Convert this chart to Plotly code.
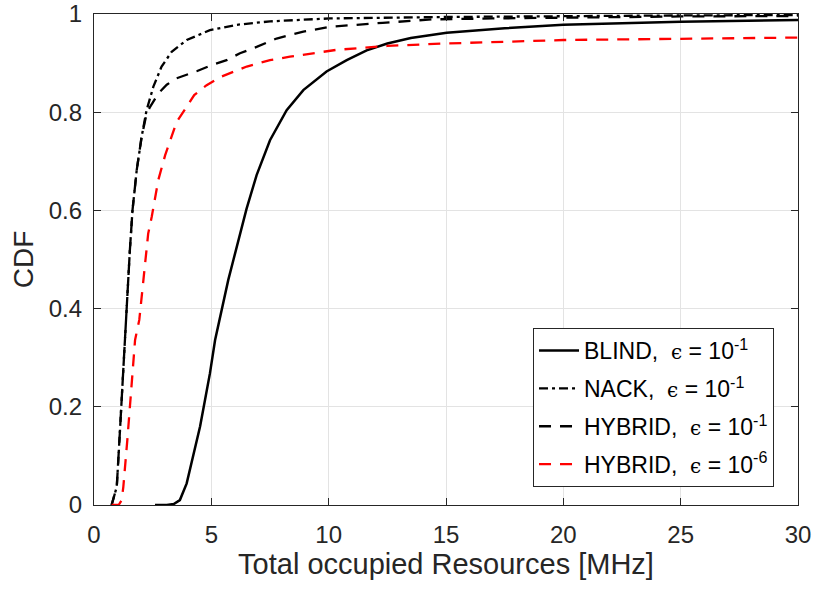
import plotly.graph_objects as go

# ---- data ----
blind_x = [2.6, 3.1, 3.4, 3.66, 3.95, 4.23, 4.52, 4.73, 4.94, 5.16, 5.44, 5.72, 5.94, 6.2, 6.5,
           6.93, 7.5, 8.21, 8.92, 9.91, 10.77, 11.62, 12.5, 13.5, 15.03, 17.5, 20, 25, 30]
blind_y = [0, 0, 0.002, 0.01, 0.044, 0.098, 0.16, 0.214, 0.268, 0.336, 0.40, 0.458, 0.499, 0.55,
           0.603, 0.672, 0.743, 0.804, 0.845, 0.883, 0.906, 0.926, 0.94, 0.951, 0.962, 0.971,
           0.978, 0.984, 0.988]

nack_x = [0.75, 0.97, 1.1, 1.25, 1.39, 1.53, 1.64, 1.82, 2.03, 2.24, 2.53, 2.88, 3.31, 3.95, 4.94,
          6.08, 7.5, 10.06, 15, 20, 25, 30]
nack_y = [0, 0.037, 0.146, 0.28, 0.397, 0.52, 0.6, 0.682, 0.75, 0.804, 0.852, 0.893, 0.923, 0.947,
          0.967, 0.978, 0.985, 0.991, 0.994, 0.996, 0.997, 0.998]

hyb1_x = [0.75, 0.97, 1.1, 1.25, 1.39, 1.53, 1.64, 1.82, 2.03, 2.24, 2.39, 2.74, 3.1, 3.52, 4.4,
          5.08, 5.65, 6.22, 6.93, 7.78, 8.92, 10.06, 12.3, 14.4, 17, 20, 25, 30]
hyb1_y = [0, 0.037, 0.146, 0.28, 0.397, 0.52, 0.6, 0.682, 0.75, 0.797, 0.811, 0.838, 0.856, 0.869,
          0.884, 0.897, 0.906, 0.92, 0.933, 0.95, 0.964, 0.974, 0.982, 0.989, 0.991, 0.993, 0.995,
          0.996]

hyb6_x = [0.75, 1.05, 1.18, 1.25, 1.42, 1.6, 1.75, 1.93, 2.03, 2.17, 2.31, 2.46, 2.74, 3.03, 3.24,
          3.52, 3.88, 4.27, 4.8, 5.4, 6.51, 7.5, 8.35, 10.34, 12.5, 15.03, 20, 25, 30]
hyb6_y = [0, 0, 0.01, 0.037, 0.132, 0.24, 0.336, 0.377, 0.424, 0.499, 0.553, 0.587, 0.662, 0.712,
          0.743, 0.78, 0.806, 0.835, 0.855, 0.872, 0.893, 0.906, 0.913, 0.927, 0.935, 0.94, 0.947,
          0.95, 0.952]

x_ticks = [0, 5, 10, 15, 20, 25, 30]
y_ticks = [0, 0.2, 0.4, 0.6, 0.8, 1]
y_tick_labels = ["0", "0.2", "0.4", "0.6", "0.8", "1"]

EPS = '<span style="font-family:DejaVu Serif;font-size:20px">ϵ</span>'
names = [
    f"BLIND,  {EPS} = 10<sup>-1</sup>",
    f"NACK,  {EPS} = 10<sup>-1</sup>",
    f"HYBRID,  {EPS} = 10<sup>-1</sup>",
    f"HYBRID,  {EPS} = 10<sup>-6</sup>",
]

FONT = "Liberation Sans, Arial, Helvetica, sans-serif"
AX = "#262626"

fig = go.Figure()
fig.add_trace(go.Scatter(x=blind_x, y=blind_y, mode="lines", name=names[0], legendgroup="a",
                         line=dict(color="black", width=2.5)))
fig.add_trace(go.Scatter(x=nack_x, y=nack_y, mode="lines", name=names[1], legendgroup="b",
                         line=dict(color="black", width=2.3, dash="9px,4px,3px,4px")))
fig.add_trace(go.Scatter(x=hyb1_x, y=hyb1_y, mode="lines", name=names[2], legendgroup="c",
                         line=dict(color="black", width=2.3, dash="12px,9px")))
fig.add_trace(go.Scatter(x=hyb6_x, y=hyb6_y, mode="lines", name=names[3], legendgroup="d",
                         line=dict(color="#ff0000", width=2.3, dash="12px,9px")))

axis_common = dict(
    showline=True, linecolor=AX, linewidth=1.3, mirror="ticks",
    ticks="inside", ticklen=7, tickwidth=1.3, tickcolor=AX,
    showgrid=True, gridcolor="#e3e3e3", gridwidth=1, zeroline=False,
    tickfont=dict(family=FONT, size=24, color=AX),
    automargin=False,
)

fig.update_layout(
    width=816, height=589,
    margin=dict(l=94, r=18, t=14, b=84),
    paper_bgcolor="white", plot_bgcolor="white",
    font=dict(family=FONT, color=AX),
    xaxis=dict(range=[0, 30], tickvals=x_ticks, ticklabelstandoff=8,
               title=dict(text="Total occupied Resources [MHz]", font=dict(family=FONT, size=29, color=AX),
                          standoff=3),
               **axis_common),
    yaxis=dict(range=[0, 1], tickvals=y_ticks, ticktext=y_tick_labels, ticklabelstandoff=6,
               title=dict(text="CDF", font=dict(family=FONT, size=28, color=AX), standoff=6),
               **axis_common),
    legend=dict(x=0.6236, y=0.3605, xanchor="left", yanchor="top",
                bgcolor="white", bordercolor=AX, borderwidth=1,
                font=dict(family=FONT, size=23, color="black"),
                tracegroupgap=5, itemwidth=40),
    showlegend=True,
)

fig.write_html("out.html")
